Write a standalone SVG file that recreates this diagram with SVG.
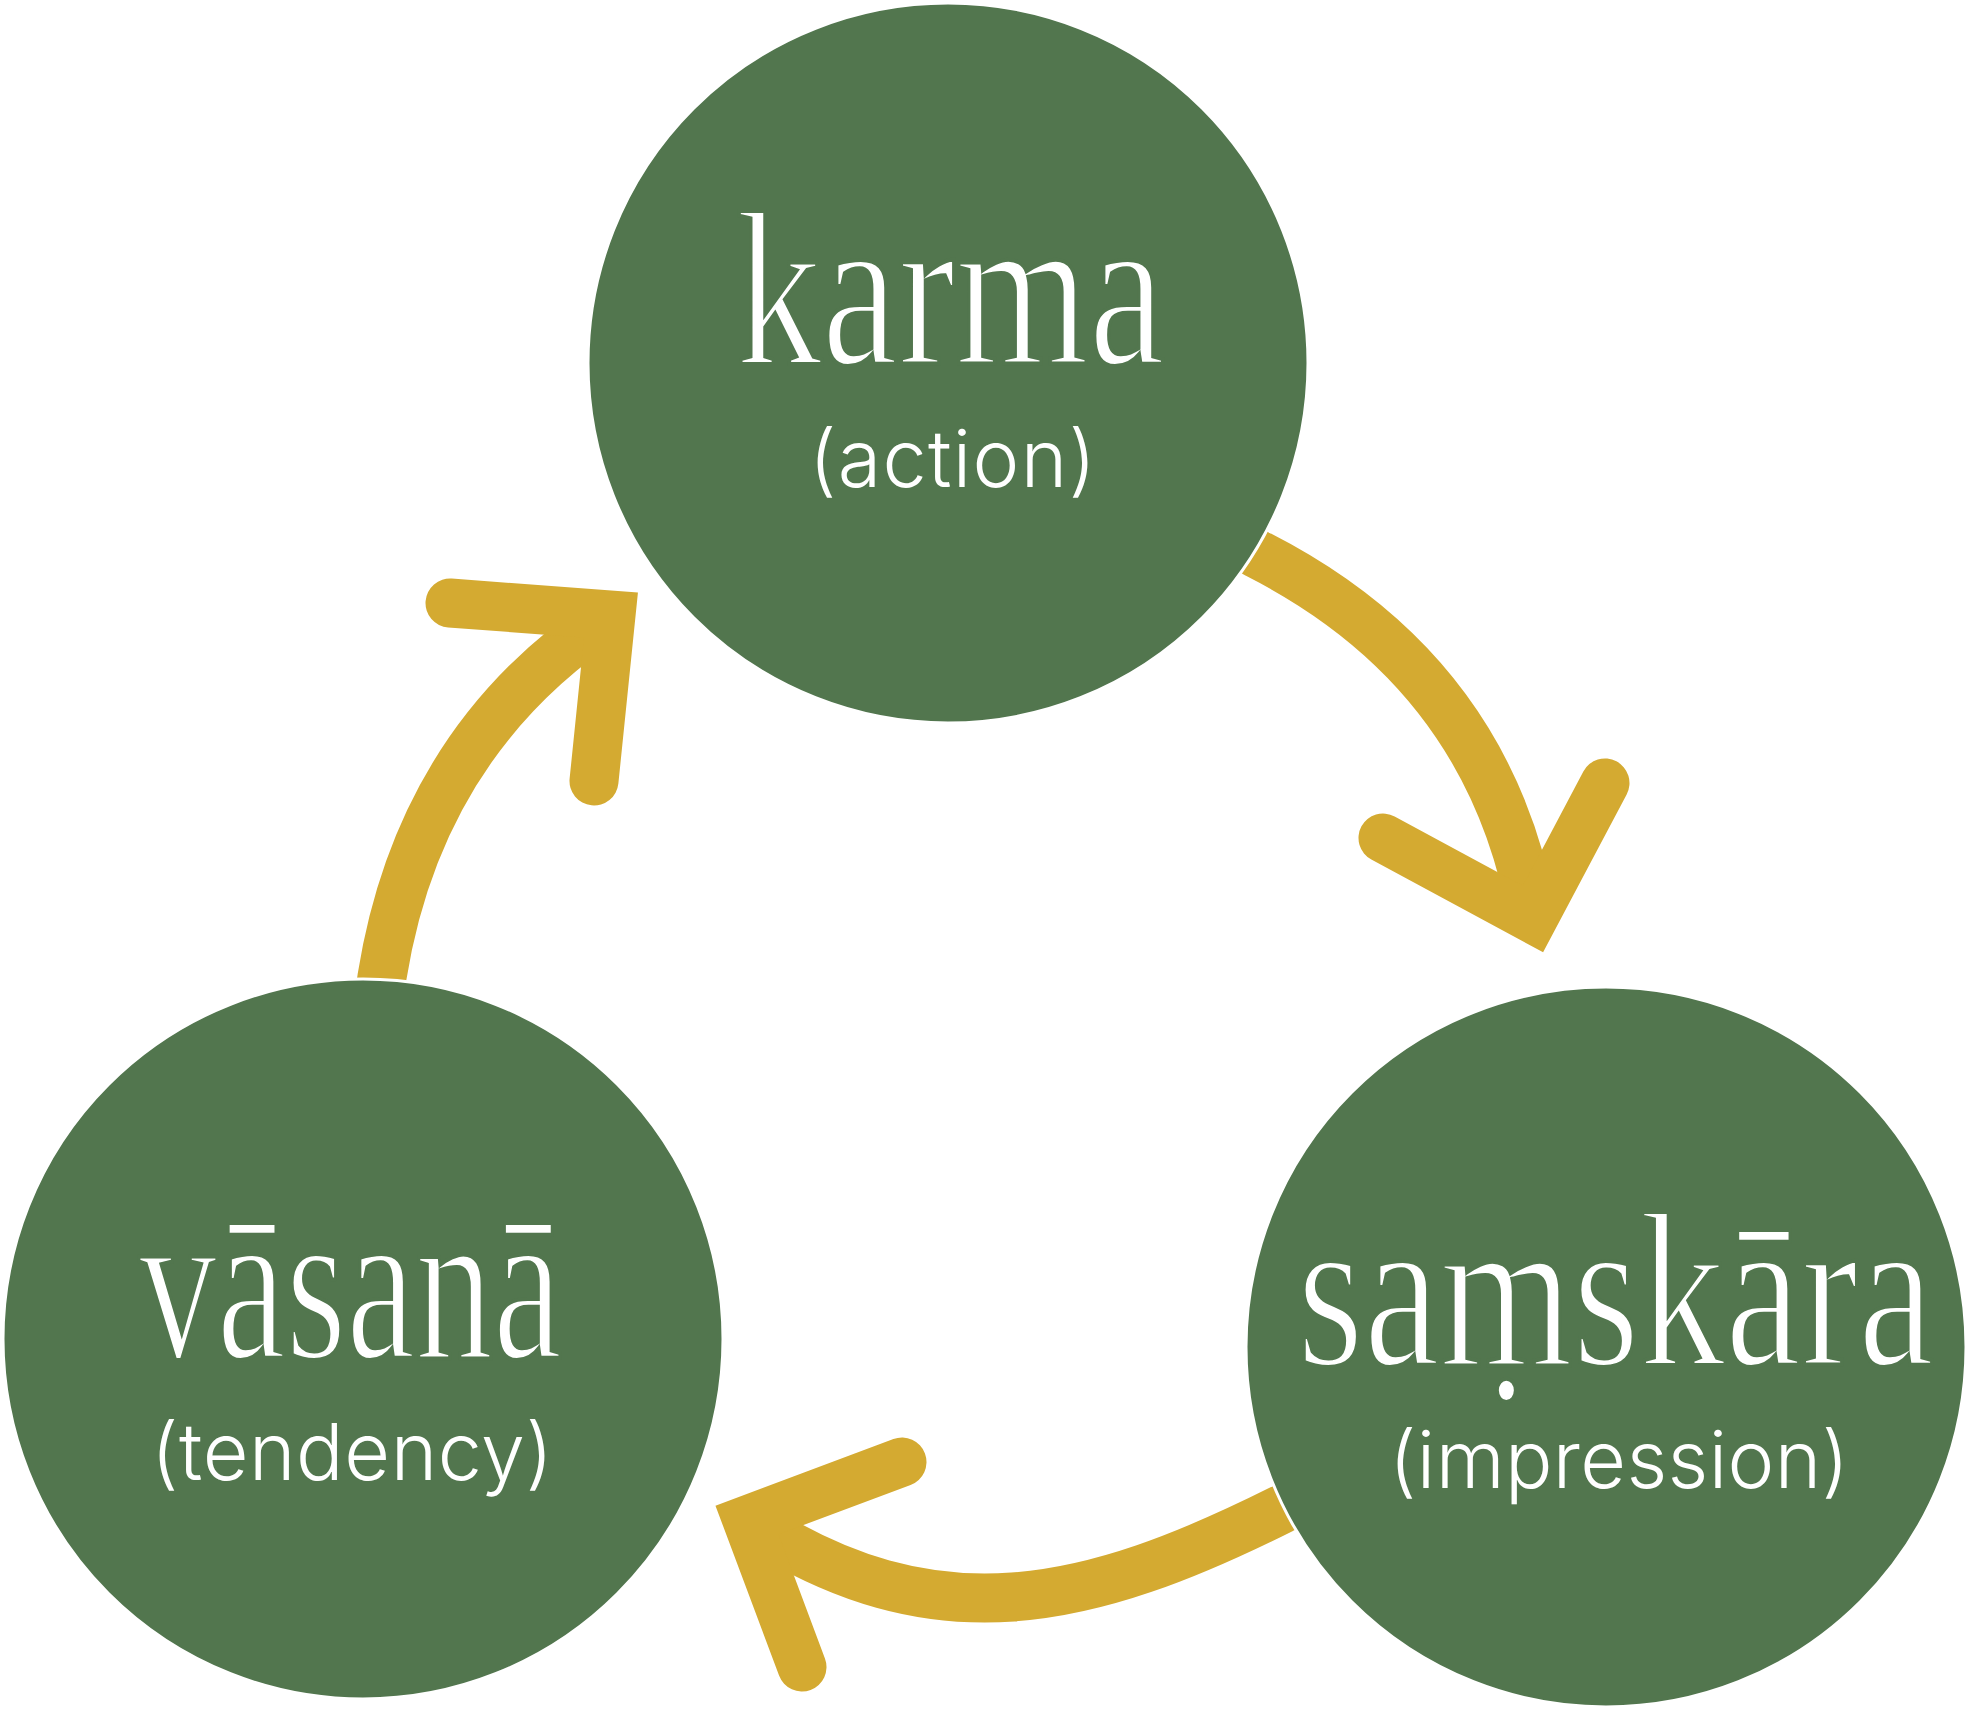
<svg xmlns="http://www.w3.org/2000/svg" width="1969" height="1710" viewBox="0 0 1969 1710">
<style>
.shaft{fill:none;stroke:#D4AA31;stroke-width:49;stroke-linecap:butt}
.head{fill:none;stroke:#D4AA31;stroke-width:49;stroke-linecap:round;stroke-linejoin:miter;stroke-miterlimit:10}
.node{fill:#52764E;stroke:#FFFFFF;stroke-width:3}
.term{font-family:"Liberation Serif","Times New Roman",serif;font-size:220px;fill:#FFFFFF;stroke:#52764E;stroke-width:4}
.gloss{font-family:Inter,"Open Sans",sans-serif;font-weight:300;font-size:79px;fill:#FFFFFF}
</style>
<rect width="1969" height="1710" fill="#FFFFFF"/>
<g id="connectors">
  <path class="shaft" d="M 378 1005 L 382 977 Q 420 740 611 615"/>
  <path class="head" d="M 450 603 L 611 615 L 594 781"/>
  <path class="shaft" d="M 1236 542 L 1257 554 Q 1490 672 1533 919"/>
  <path class="head" d="M 1383 838 L 1533 919 L 1605 783"/>
  <path class="shaft" d="M 1304 1499 L 1282 1509 C 1090 1605 935 1644 747 1520"/>
  <path class="head" d="M 902 1462 L 747 1520 L 802 1667"/>
</g>
<g id="karma">
  <circle class="node" cx="948" cy="363" r="360"/>
  <text class="term" x="736" y="364" textLength="429" lengthAdjust="spacingAndGlyphs">karma</text>
  <text class="gloss" x="809" y="487" textLength="287" lengthAdjust="spacing">(action)</text>
</g>
<g id="samskara">
  <circle class="node" cx="1606" cy="1347" r="360"/>
  <text class="term" x="1297" y="1365" textLength="637" lengthAdjust="spacingAndGlyphs">saṃskāra</text>
  <text class="gloss" x="1389" y="1488" textLength="460" lengthAdjust="spacing">(impression)</text>
</g>
<g id="vasana">
  <circle class="node" cx="363" cy="1339" r="360"/>
  <text class="term" x="139" y="1358" textLength="423" lengthAdjust="spacingAndGlyphs">vāsanā</text>
  <text class="gloss" x="151" y="1480" textLength="402" lengthAdjust="spacing">(tendency)</text>
</g>
</svg>
